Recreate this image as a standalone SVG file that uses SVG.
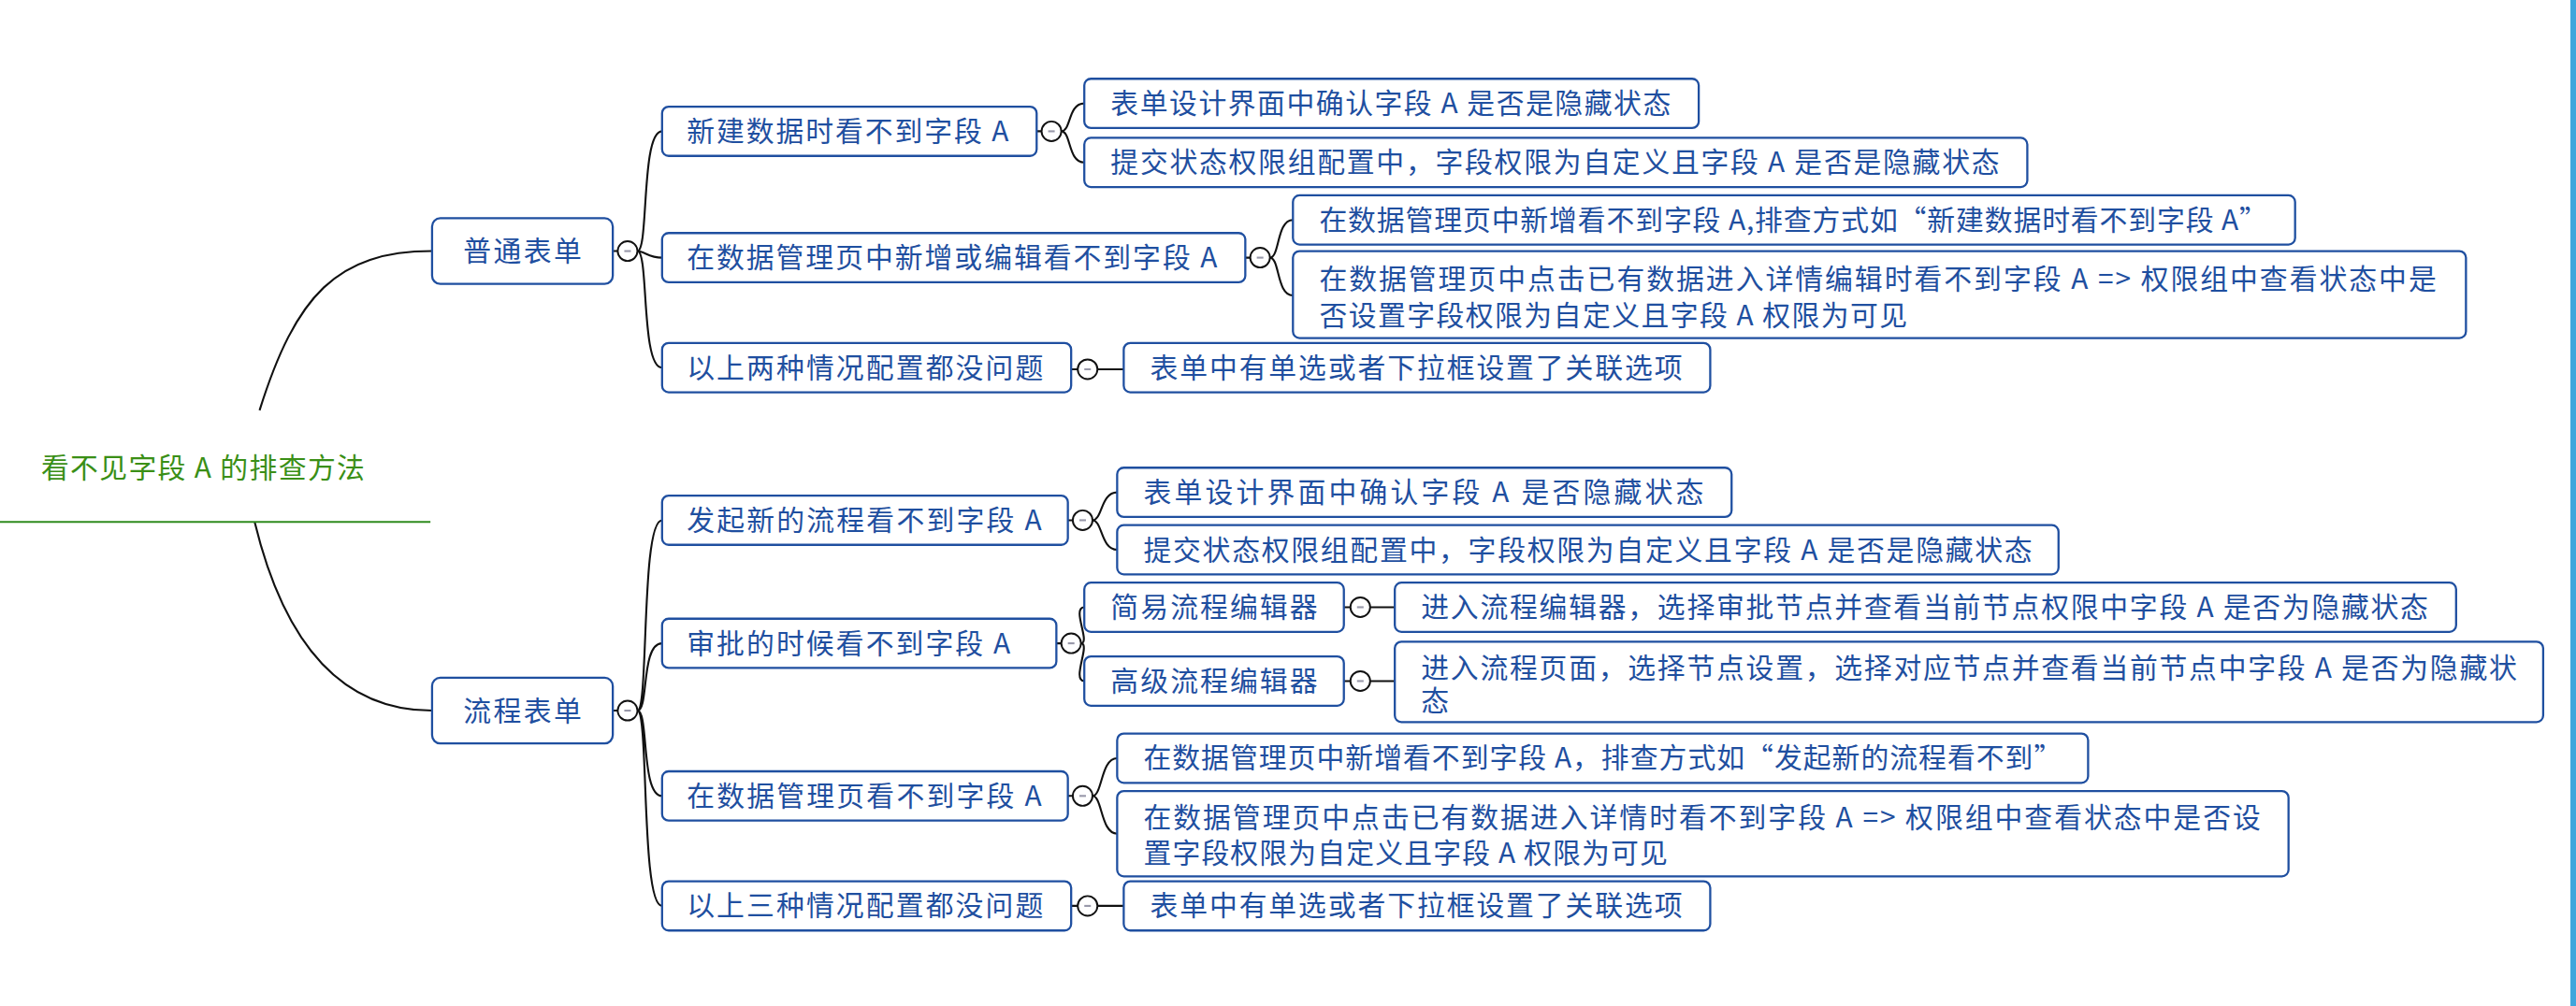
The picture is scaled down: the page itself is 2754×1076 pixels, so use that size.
<svg xmlns="http://www.w3.org/2000/svg" width="2754" height="1076" viewBox="0 0 2754 1076">
<style>
.b{fill:#fff;stroke:#1f4fa0;stroke-width:1.3}
.t{font-family:"Noto Sans CJK SC","Liberation Sans",sans-serif;font-size:17px;fill:#1f4fa0}
.c{fill:none;stroke:#111;stroke-width:1.2}
.k{fill:#fff;stroke:#111;stroke-width:1.1}
.m{stroke:#99a;stroke-width:1.2}
</style>
<rect width="2754" height="1076" fill="#fff"/>
<rect x="2748" y="0" width="6" height="1076" fill="#3ea6dc"/>
<g transform="scale(1.7564,1.7553)">
<g id="connectors">
<path class="c" d="M158,250 C180,180 205,153 263,153"/>
<path class="c" d="M155,318 C170,380 200,433 263,433"/>
<line x1="0" y1="318" x2="262" y2="318" stroke="#2e8b1e" stroke-width="1.2"/>
<path class="c" d="M373,153 H376 M388,153 C395,153 390,80 403,80 M388,153 C392,153 395,157 403,157 M388,153 C395,153 390,224 403,224"/>
<path class="c" d="M631,80 H634 M646,80 C652,80 650,63 660,63 M646,80 C652,80 650,99 660,99"/>
<path class="c" d="M758,157 H761 M773,157 C779,157 777,134 787,134 M773,157 C779,157 777,180 787,180"/>
<path class="c" d="M652,225 H656 M668,225 H684"/>
<path class="c" d="M373,433 H376 M388,433 C395,433 390,317 403,317 M388,433 C395,433 390,392 403,392 M388,433 C395,433 390,485 403,485 M388,433 C395,433 390,552 403,552"/>
<path class="c" d="M650,317 H653 M665,317 C671,317 670,300 680,300 M665,317 C671,317 670,335 680,335"/>
<path class="c" d="M643,392 H646 M658,392 C664,392 652,370 660,370 M658,392 C664,392 652,415 660,415"/>
<path class="c" d="M818,370 H822 M834,370 H849"/>
<path class="c" d="M818,415 H822 M834,415 H849"/>
<path class="c" d="M650,485 H653 M665,485 C671,485 670,462 680,462 M665,485 C671,485 670,508 680,508"/>
<path class="c" d="M652,552 H656 M668,552 H684"/>
<g><circle class="k" cx="382" cy="153" r="6"/><line class="m" x1="380" y1="153" x2="384" y2="153"/></g>
<g><circle class="k" cx="640" cy="80" r="6"/><line class="m" x1="638" y1="80" x2="642" y2="80"/></g>
<g><circle class="k" cx="767" cy="157" r="6"/><line class="m" x1="765" y1="157" x2="769" y2="157"/></g>
<g><circle class="k" cx="662" cy="225" r="6"/><line class="m" x1="660" y1="225" x2="664" y2="225"/></g>
<g><circle class="k" cx="382" cy="433" r="6"/><line class="m" x1="380" y1="433" x2="384" y2="433"/></g>
<g><circle class="k" cx="659" cy="317" r="6"/><line class="m" x1="657" y1="317" x2="661" y2="317"/></g>
<g><circle class="k" cx="652" cy="392" r="6"/><line class="m" x1="650" y1="392" x2="654" y2="392"/></g>
<g><circle class="k" cx="828" cy="370" r="6"/><line class="m" x1="826" y1="370" x2="830" y2="370"/></g>
<g><circle class="k" cx="828" cy="415" r="6"/><line class="m" x1="826" y1="415" x2="830" y2="415"/></g>
<g><circle class="k" cx="659" cy="485" r="6"/><line class="m" x1="657" y1="485" x2="661" y2="485"/></g>
<g><circle class="k" cx="662" cy="552" r="6"/><line class="m" x1="660" y1="552" x2="664" y2="552"/></g>
</g>
<g id="root"><text x="25" y="291" font-family="'Noto Sans CJK SC','Liberation Sans',sans-serif" font-size="17" fill="#3a8f16" textLength="197">看不见字段 A 的排查方法</text></g>
<g id="n1"><rect class="b" x="263" y="133" width="110" height="40" rx="5"/><text class="t" x="282" y="159" textLength="72">普通表单</text></g>
<g id="n2"><rect class="b" x="263" y="413" width="110" height="40" rx="5"/><text class="t" x="282" y="439" textLength="72">流程表单</text></g>
<g id="n11"><rect class="b" x="403" y="65" width="228" height="30" rx="4"/><text class="t" x="418" y="86" textLength="196">新建数据时看不到字段 A</text></g>
<g id="n12"><rect class="b" x="403" y="142" width="355" height="30" rx="4"/><text class="t" x="418" y="163" textLength="323">在数据管理页中新增或编辑看不到字段 A</text></g>
<g id="n13"><rect class="b" x="403" y="209" width="249" height="30" rx="4"/><text class="t" x="418" y="230" textLength="217">以上两种情况配置都没问题</text></g>
<g id="n111"><rect class="b" x="660" y="48" width="374" height="30" rx="4"/><text class="t" x="676" y="69" textLength="341">表单设计界面中确认字段 A 是否是隐藏状态</text></g>
<g id="n112"><rect class="b" x="660" y="84" width="574" height="30" rx="4"/><text class="t" x="676" y="105" textLength="541">提交状态权限组配置中，字段权限为自定义且字段 A 是否是隐藏状态</text></g>
<g id="n121"><rect class="b" x="787" y="119" width="610" height="30" rx="4"/><text class="t" x="803" y="140" textLength="577">在数据管理页中新增看不到字段 A,排查方式如“新建数据时看不到字段 A”</text></g>
<g id="n122"><rect class="b" x="787" y="153" width="714" height="53" rx="4"/><text class="t" x="803" y="176" textLength="680">在数据管理页中点击已有数据进入详情编辑时看不到字段 A =&gt; 权限组中查看状态中是</text><text class="t" x="803" y="198" textLength="358">否设置字段权限为自定义且字段 A 权限为可见</text></g>
<g id="n131"><rect class="b" x="684" y="209" width="357" height="30" rx="4"/><text class="t" x="700" y="230" textLength="324">表单中有单选或者下拉框设置了关联选项</text></g>
<g id="n21"><rect class="b" x="403" y="302" width="247" height="30" rx="4"/><text class="t" x="418" y="323" textLength="216">发起新的流程看不到字段 A</text></g>
<g id="n22"><rect class="b" x="403" y="377" width="240" height="30" rx="4"/><text class="t" x="418" y="398" textLength="197">审批的时候看不到字段 A</text></g>
<g id="n23"><rect class="b" x="403" y="470" width="247" height="30" rx="4"/><text class="t" x="418" y="491" textLength="216">在数据管理页看不到字段 A</text></g>
<g id="n24"><rect class="b" x="403" y="537" width="249" height="30" rx="4"/><text class="t" x="418" y="558" textLength="217">以上三种情况配置都没问题</text></g>
<g id="n211"><rect class="b" x="680" y="285" width="374" height="30" rx="4"/><text class="t" x="696" y="306" textLength="341">表单设计界面中确认字段 A 是否隐藏状态</text></g>
<g id="n212"><rect class="b" x="680" y="320" width="573" height="30" rx="4"/><text class="t" x="696" y="341" textLength="541">提交状态权限组配置中，字段权限为自定义且字段 A 是否是隐藏状态</text></g>
<g id="n221"><rect class="b" x="660" y="355" width="158" height="30" rx="4"/><text class="t" x="676" y="376" textLength="126">简易流程编辑器</text></g>
<g id="n222"><rect class="b" x="660" y="400" width="158" height="30" rx="4"/><text class="t" x="676" y="421" textLength="126">高级流程编辑器</text></g>
<g id="n2211"><rect class="b" x="849" y="355" width="646" height="30" rx="4"/><text class="t" x="865" y="376" textLength="613">进入流程编辑器，选择审批节点并查看当前节点权限中字段 A 是否为隐藏状态</text></g>
<g id="n2221"><rect class="b" x="849" y="391" width="699" height="49" rx="4"/><text class="t" x="865" y="413" textLength="667">进入流程页面，选择节点设置，选择对应节点并查看当前节点中字段 A 是否为隐藏状</text><text class="t" x="865" y="433">态</text></g>
<g id="n231"><rect class="b" x="680" y="447" width="591" height="30" rx="4"/><text class="t" x="696" y="468" textLength="559">在数据管理页中新增看不到字段 A，排查方式如“发起新的流程看不到”</text></g>
<g id="n232"><rect class="b" x="680" y="482" width="713" height="52" rx="4"/><text class="t" x="696" y="504" textLength="680">在数据管理页中点击已有数据进入详情时看不到字段 A =&gt; 权限组中查看状态中是否设</text><text class="t" x="696" y="526" textLength="319">置字段权限为自定义且字段 A 权限为可见</text></g>
<g id="n241"><rect class="b" x="684" y="537" width="357" height="30" rx="4"/><text class="t" x="700" y="558" textLength="324">表单中有单选或者下拉框设置了关联选项</text></g>
</g>
</svg>
